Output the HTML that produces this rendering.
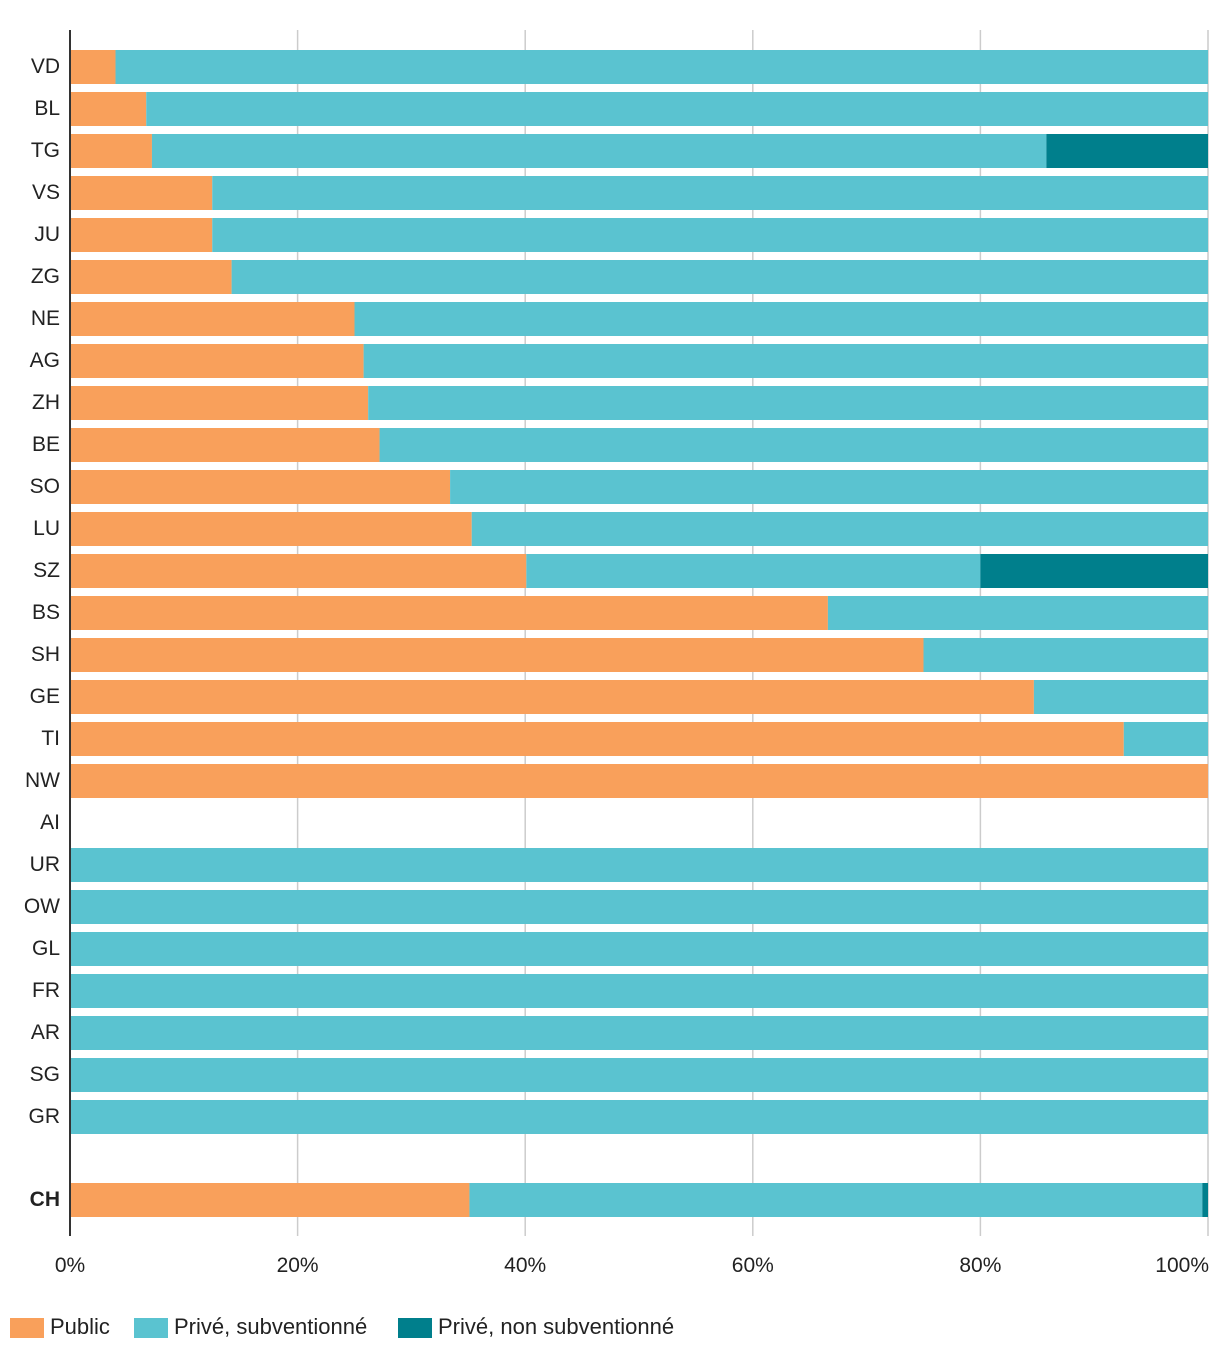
<!DOCTYPE html>
<html><head><meta charset="utf-8"><style>
body{margin:0;background:#fff;}
svg text{font-family:"Liberation Sans",sans-serif;fill:#222;}
</style></head><body>
<svg id="chart" width="1220" height="1360" xmlns="http://www.w3.org/2000/svg"></svg>
<script>
const categories=["VD","BL","TG","VS","JU","ZG","NE","AG","ZH","BE","SO","LU","SZ","BS","SH","GE","TI","NW","AI","UR","OW","GL","FR","AR","SG","GR","CH"];
const publicVals=[4.0,6.7,7.2,12.5,12.5,14.2,25.0,25.8,26.2,27.2,33.4,35.3,40.1,66.6,75.0,84.7,92.6,100,0,0,0,0,0,0,0,0,35.1];
const subVals=[96.0,93.3,78.6,87.5,87.5,85.8,75.0,74.2,73.8,72.8,66.6,64.7,39.9,33.4,25.0,15.3,7.4,0,0,100,100,100,100,100,100,100,64.4];
const nonSubVals=[0,0,14.2,0,0,0,0,0,0,0,0,0,20.0,0,0,0,0,0,0,0,0,0,0,0,0,0,0.5];
const ticks=[0,20,40,60,80,100];
const tickLabels=["0%","20%","40%","60%","80%","100%"];
const seriesNames=["Public","Privé, subventionné","Privé, non subventionné"];
const colors=["#F9A05B","#5AC3D0","#007F8C"];
const svg=document.getElementById('chart');
const NS="http://www.w3.org/2000/svg";
const x0=70,x1=1208;
const xs=v=>x0+(x1-x0)*v/100;
const ys=i=>(i<26?67+42*i:1200);
function mk(t,a){const e=document.createElementNS(NS,t);for(const k in a)e.setAttribute(k,a[k]);svg.appendChild(e);return e;}
ticks.forEach((t,i)=>{
 if(t>0){const g=mk('line',{x1:xs(t),x2:xs(t),y1:30,y2:1236,stroke:'#cccccc','stroke-width':1.5});
 
 }
 const last=i===ticks.length-1;
 const tl=mk('text',{x:last?xs(t)+1:xs(t),y:1272,'text-anchor':last?'end':'middle','font-size':21});
 tl.textContent=tickLabels[i];
 
 
});
const series=[publicVals,subVals,nonSubVals];
const snames=['public','subsidized','non-subsidized'];
categories.forEach((c,i)=>{
 let acc=0;const y=ys(i);
 series.forEach((s,k)=>{
  const v=s[i];
  if(v>0){const r=mk('rect',{x:xs(acc),y:y-17,width:xs(acc+v)-xs(acc),height:34,fill:colors[k]});
  
  }
  acc+=v;
 });
 const t=mk('text',{x:60,y:y+6,'text-anchor':'end','font-size':21,'font-weight':c==='CH'?700:400});
 t.textContent=c;
 
 
});
const ax=mk('line',{x1:70,x2:70,y1:30,y2:1236,stroke:'#333','stroke-width':2});


const lx=[10,134,398];
seriesNames.forEach((n,k)=>{
 const r=mk('rect',{x:lx[k],y:1318,width:34,height:20,fill:colors[k]});
 
 
 const t=mk('text',{x:lx[k]+40,y:1334,'font-size':22});
 t.textContent=n;
 
 
});
</script>
</body></html>
